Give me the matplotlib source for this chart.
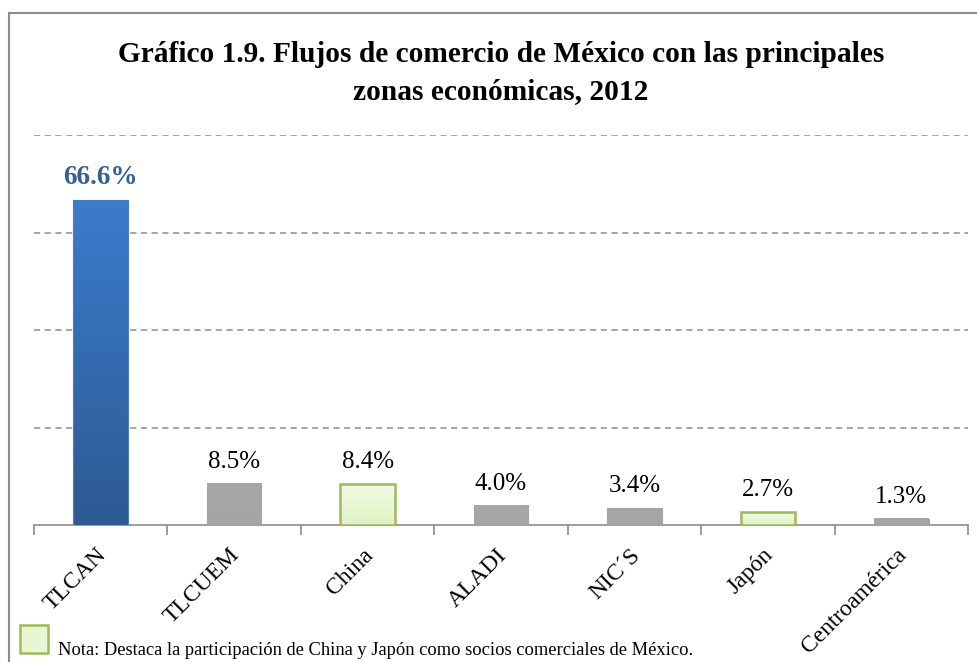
import matplotlib
matplotlib.use("Agg")
import matplotlib.pyplot as plt
import matplotlib.transforms as mtransforms
import numpy as np
from matplotlib.colors import LinearSegmentedColormap
from matplotlib.lines import Line2D
from matplotlib.patches import Rectangle

categories = ["TLCAN", "TLCUEM", "China", "ALADI", "NIC´S", "Japón", "Centroamérica"]
values = [66.6, 8.5, 8.4, 4.0, 3.4, 2.7, 1.3]
labels = ["66.6%", "8.5%", "8.4%", "4.0%", "3.4%", "2.7%", "1.3%"]
kinds = ["blue", "gray", "green", "gray", "gray", "green", "gray"]
title_lines = ["Gráfico 1.9. Flujos de comercio de México con las principales",
               "zonas económicas, 2012"]
note = "Nota: Destaca la participación de China y Japón como socios comerciales de México."

plt.rcParams['font.family'] = ['Liberation Serif', 'DejaVu Serif']

W, H = 977, 662
fig = plt.figure(figsize=(W / 100, H / 100), dpi=100)
fig.patch.set_facecolor("white")

# outer frame (left and top edges visible)
frame_col = "#8c8c8c"
fig.add_artist(Line2D([9 / W, 9 / W], [0, 1 - 13 / H], transform=fig.transFigure, color=frame_col, lw=1.5))
fig.add_artist(Line2D([9 / W, 1], [1 - 13 / H, 1 - 13 / H], transform=fig.transFigure, color=frame_col, lw=1.5))

ax_left, ax_right = 34, 968
ax_top, ax_bot = 135, 525
ax = fig.add_axes([ax_left / W, (H - ax_bot) / H, (ax_right - ax_left) / W, (ax_bot - ax_top) / H])
ax.set_xlim(-0.5, len(categories) - 0.5)
ax.set_ylim(0, 80)

for s in ["top", "right", "left"]:
    ax.spines[s].set_visible(False)
ax.spines["bottom"].set_color("#8c8c8c")
ax.spines["bottom"].set_linewidth(1.2)

ax.set_yticks([20, 40, 60, 80])
ax.yaxis.grid(True, linestyle=(0, (4, 3)), color="#8c8c8c", linewidth=1.1)
ax.tick_params(axis="y", length=0, labelleft=False)
ax.set_axisbelow(True)

x = np.arange(len(categories))
ax.set_xticks(np.arange(-0.5, len(categories), 1.0))
ax.set_xticklabels([])
ax.tick_params(axis="x", which="major", length=7, width=1.2, color="#8c8c8c", direction="out")
ax.set_xticks(x, minor=True)
ax.set_xticklabels(categories, minor=True, rotation=45, ha="right", va="top",
                   rotation_mode="anchor", fontsize=17)
ax.tick_params(axis="x", which="minor", length=0, pad=14)
shift = mtransforms.ScaledTranslation(-5 / 100, 0, fig.dpi_scale_trans)
for t in ax.get_xticklabels(minor=True):
    t.set_transform(t.get_transform() + shift)

cmaps = {
    "blue": LinearSegmentedColormap.from_list("b", ["#2d5a92", "#3b7ccc"]),
    "gray": LinearSegmentedColormap.from_list("g", ["#a4a4a4", "#a8a8a8"]),
    "green": LinearSegmentedColormap.from_list("gr", ["#def3c2", "#f3fbe8"]),
}
edges = {"blue": "#4a7ebb", "gray": "#a4a4a4", "green": "#9bbb59"}

bars = ax.bar(x, values, width=0.41, color="none", edgecolor="none", zorder=3)
grad = np.linspace(0, 1, 256).reshape(-1, 1)
for b, k in zip(bars, kinds):
    x0, w, h = b.get_x(), b.get_width(), b.get_height()
    ax.imshow(grad, extent=[x0, x0 + w, 0, h], origin="lower", aspect="auto",
              cmap=cmaps[k], zorder=3, interpolation="bilinear")
    lw = 1.8 if k == "green" else 0.8
    ax.add_patch(Rectangle((x0, 0), w, h, fill=False, edgecolor=edges[k], lw=lw, zorder=4))
ax.set_xlim(-0.5, len(categories) - 0.5)
ax.set_ylim(0, 80)

for b, lab, k in zip(bars, labels, kinds):
    if k == "blue":
        ax.annotate(lab, (b.get_x() + b.get_width() / 2, b.get_height()), xytext=(0, 12),
                    textcoords="offset points", ha="center", va="baseline", fontsize=19.6,
                    fontweight="bold", color="#376092")
    else:
        ax.annotate(lab, (b.get_x() + b.get_width() / 2, b.get_height()), xytext=(0, 11.5),
                    textcoords="offset points", ha="center", va="baseline", fontsize=18,
                    color="black")

cx = (ax_left + ax_right) / 2 / W
for i, (line, ybase) in enumerate(zip(title_lines, [62, 99])):
    fig.text(cx, 1 - ybase / H, line, ha="center", va="baseline",
             fontsize=21.2, fontweight="bold")

# note with swatch
sw = Rectangle((20 / W, 1 - 653 / H), 28 / W, 28 / H, transform=fig.transFigure,
               facecolor="#e8f7d2", edgecolor="#9bbb59", lw=1.8)
fig.add_artist(sw)
fig.text(58 / W, 1 - 655 / H, note, ha="left", va="baseline", fontsize=13.3)

fig.savefig("out.png", dpi=100)
